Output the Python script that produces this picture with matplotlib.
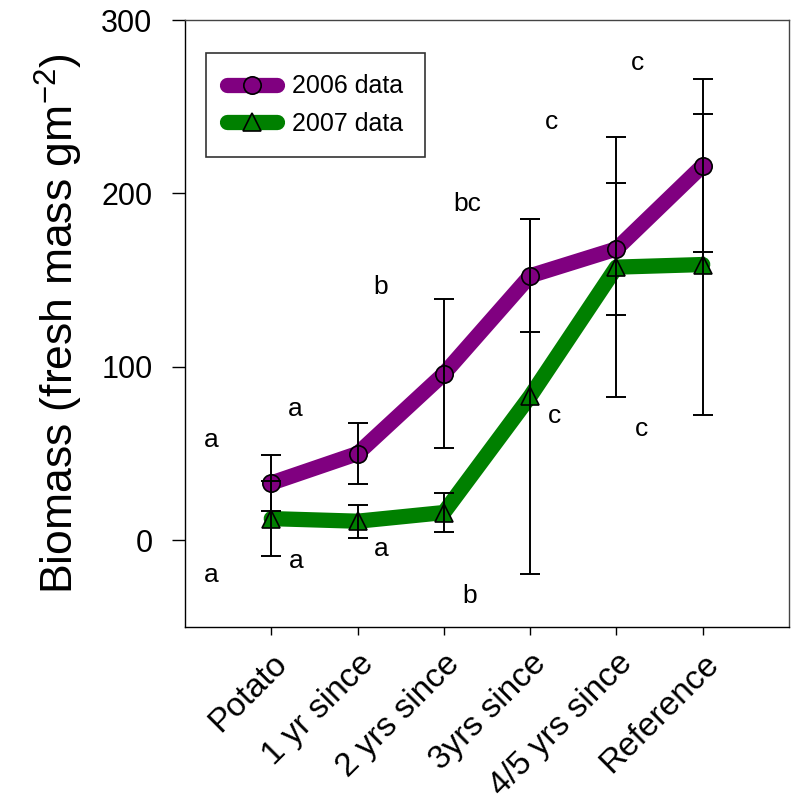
import matplotlib
matplotlib.use("Agg")
import matplotlib.pyplot as plt
from matplotlib.transforms import ScaledTranslation
import numpy as np

plt.rcParams['font.family'] = ['Liberation Sans', 'DejaVu Sans']
plt.rcParams['mathtext.fontset'] = 'custom'
plt.rcParams['mathtext.rm'] = 'Liberation Sans'
plt.rcParams['mathtext.it'] = 'Liberation Sans:italic'

categories = ["Potato", "1 yr since", "2 yrs since", "3yrs since", "4/5 yrs since", "Reference"]
mean_2006 = [33, 50, 96, 152.5, 168, 216]
err_2006 = [16, 17.5, 43, 32.5, 38, 50]
mean_2007 = [12.5, 11, 16, 83, 157.5, 159]
err_2007 = [21.5, 9.5, 11, 102.5, 75, 87]

# significance letters: (x position, y value, letter)
letters_2006 = [(0.3, 51, "a"), (1.28, 69, "a"), (2.27, 139, "b"),
                (3.27, 187, "bc"), (4.25, 234, "c"), (5.25, 268, "c")]
letters_2007 = [(0.3, -27, "a"), (1.29, -19, "a"), (2.28, -12, "a"),
                (3.3, -39, "b"), (4.28, 65, "c"), (5.29, 57, "c")]

x = np.arange(1, len(categories) + 1)

fig = plt.figure(figsize=(7.92, 8.06), dpi=100)
ax = fig.add_axes([185/792, 1 - 627/806, (789 - 185)/792, (627 - 20)/806])

ax.plot(x, mean_2006, color='#800080', lw=11, solid_capstyle='round', solid_joinstyle='round',
        marker='o', ms=12.5, mfc='#800080', mec='black', mew=1.2, label='2006 data', zorder=3)
ax.plot(x, mean_2007, color='#008000', lw=11, solid_capstyle='round', solid_joinstyle='round',
        marker='^', ms=12.5, mfc='#008000', mec='black', mew=1.2, label='2007 data', zorder=2)
ax.errorbar(x, mean_2006, yerr=err_2006, fmt='none', ecolor='black', elinewidth=1.4,
            capsize=7, capthick=1.4, zorder=4)
ax.errorbar(x, mean_2007, yerr=err_2007, fmt='none', ecolor='black', elinewidth=1.4,
            capsize=7, capthick=1.4, zorder=4)

for xx, yy, t in letters_2006 + letters_2007:
    ax.text(xx, yy, t, fontsize=19, ha='center', va='bottom')

ax.set_xlim(0, 7)
ax.set_ylim(-50, 300)
ax.set_yticks([0, 100, 200, 300])
ax.set_xticks(x)
ax.set_xticklabels(categories, rotation=45, ha='right', va='top', rotation_mode='anchor', fontsize=24)
for lbl in ax.get_xticklabels():
    lbl.set_transform(lbl.get_transform() + ScaledTranslation(6/100, 0, fig.dpi_scale_trans))
ax.tick_params(axis='y', labelsize=22, length=9.4, width=1, pad=14)
ax.tick_params(axis='x', length=6, width=1, pad=9)
ax.set_ylabel("Biomass (fresh mass gm$^{\\mathregular{-2}}$)", fontsize=32, labelpad=12)
for s in ax.spines.values():
    s.set_linewidth(1)
for s in ['top', 'right']:
    ax.spines[s].set_color('#444444')

leg = ax.legend(loc='upper left', bbox_to_anchor=(0.035, 0.9456), borderaxespad=0, fontsize=18,
                frameon=True, fancybox=False, edgecolor='black', handlelength=2.0,
                borderpad=0.85, labelspacing=0.55, handletextpad=0.6)
leg.get_frame().set_linewidth(1.2)

fig.savefig("out.png", dpi=100)
